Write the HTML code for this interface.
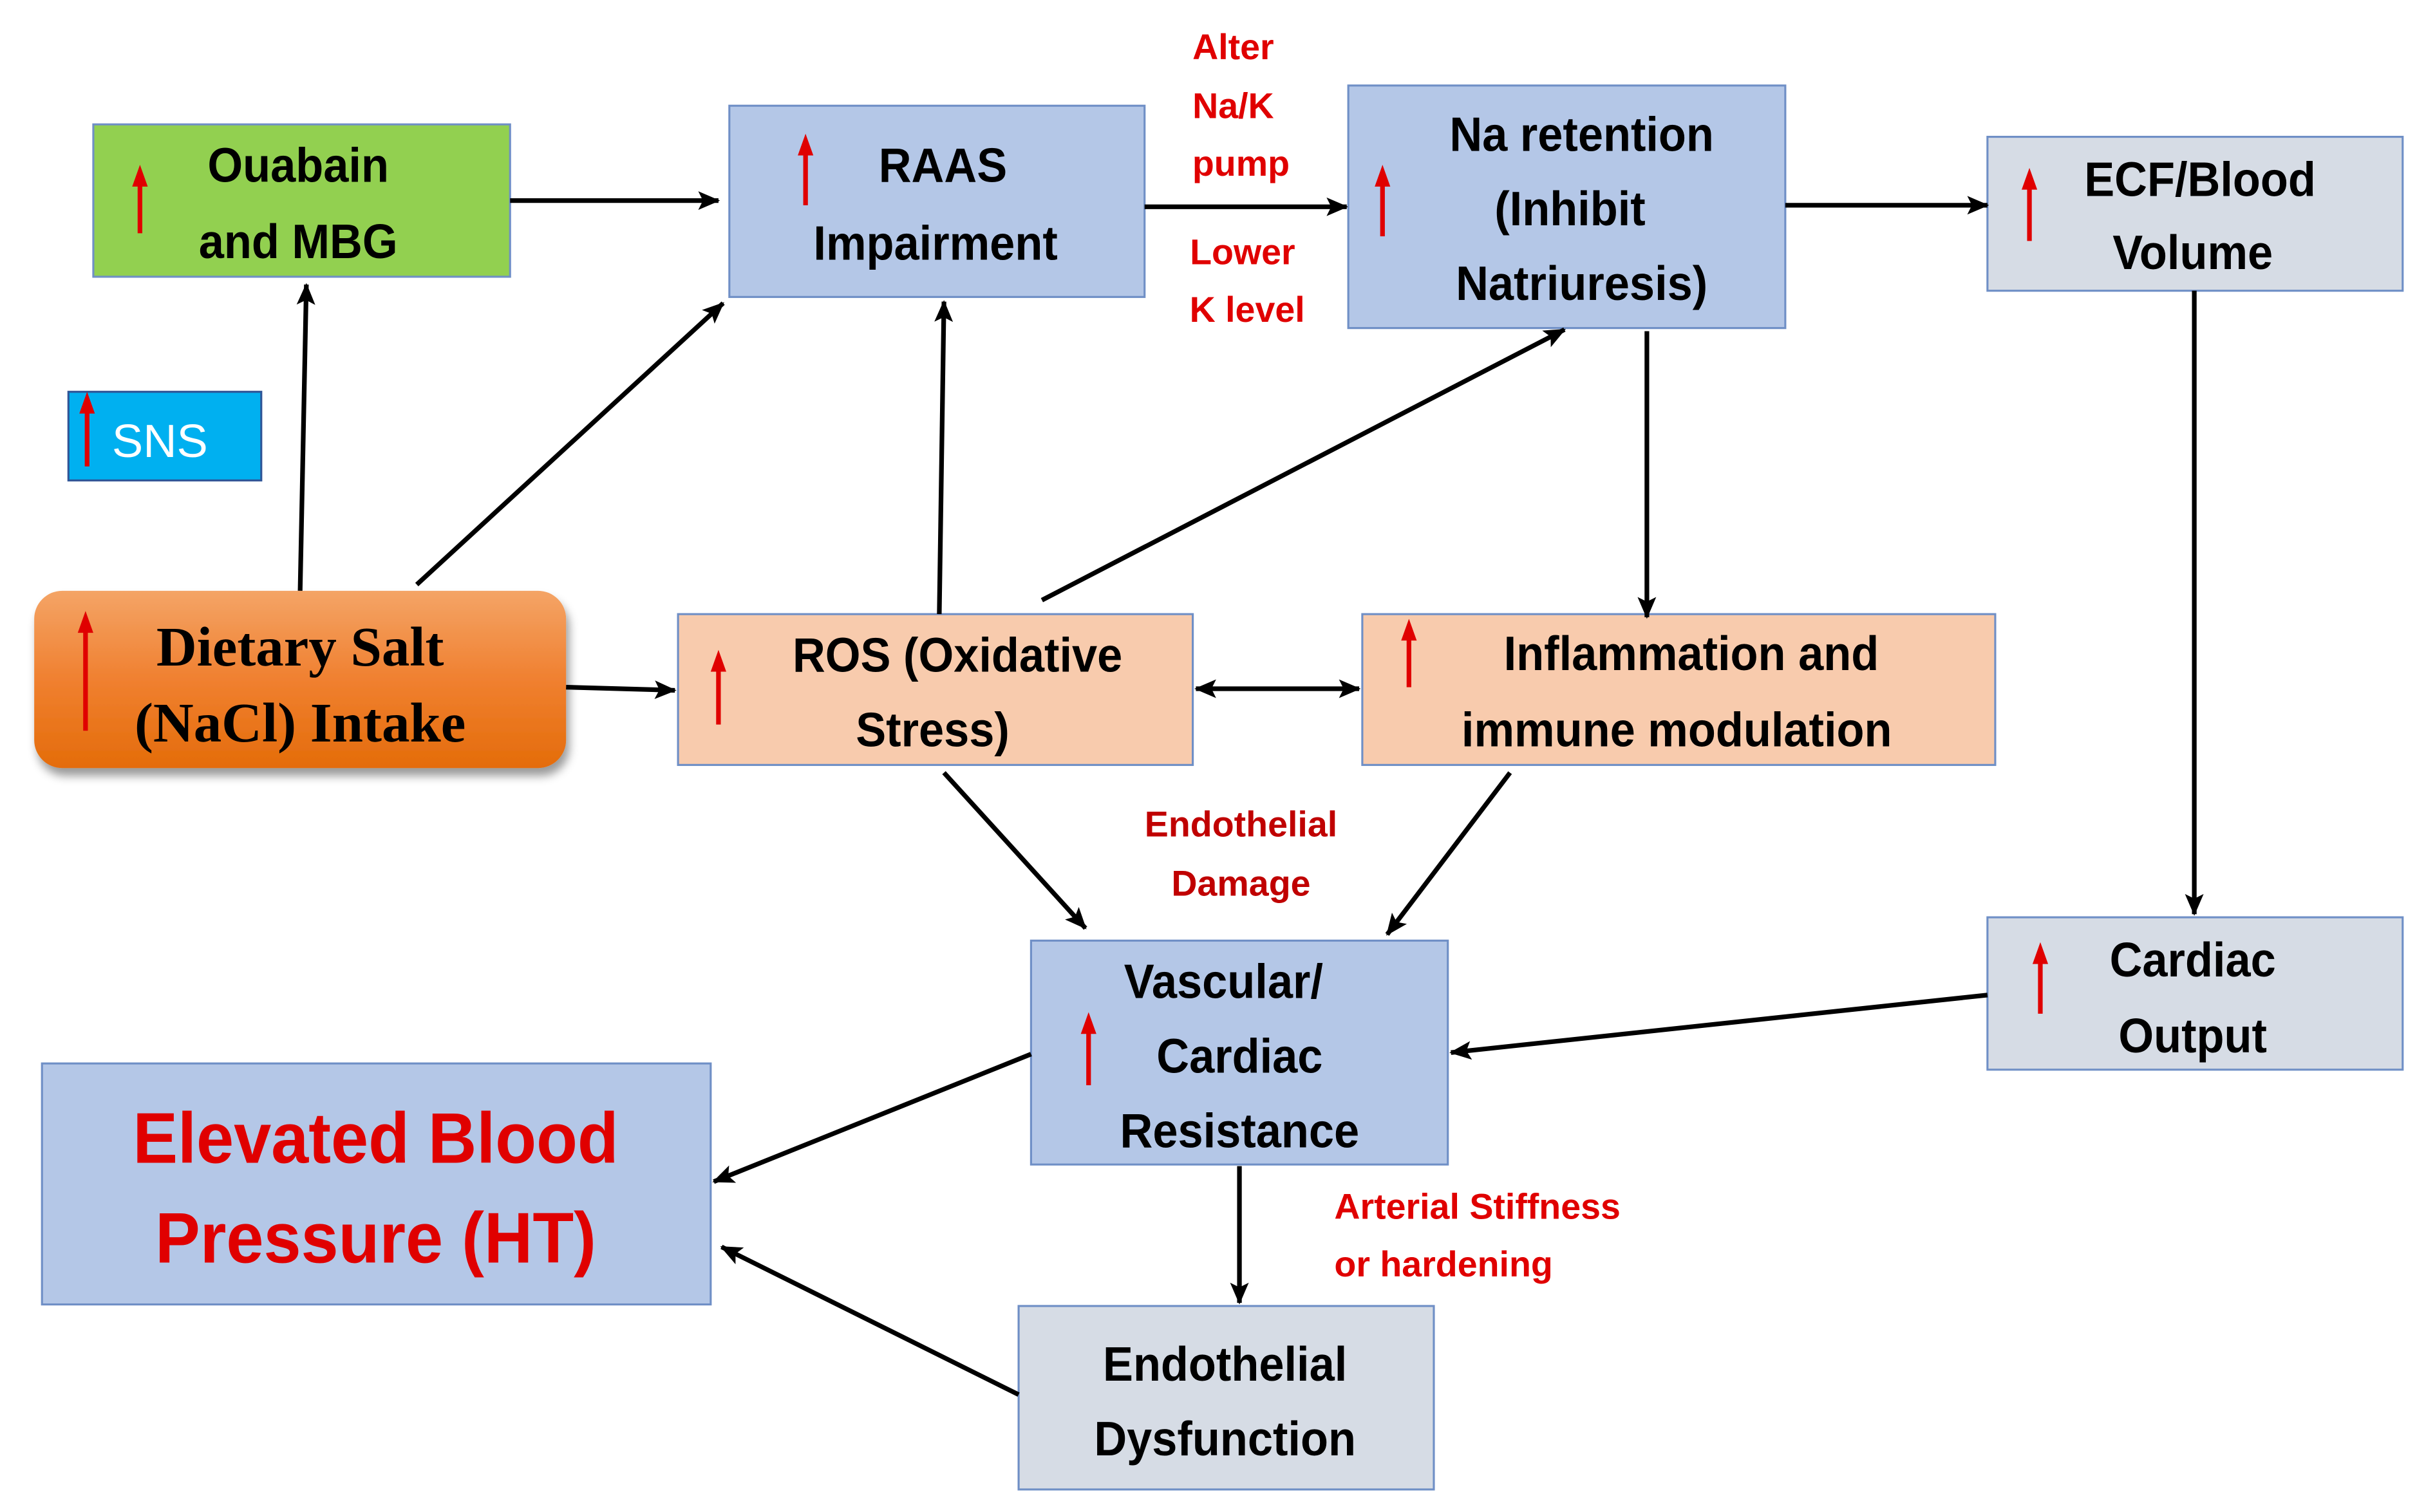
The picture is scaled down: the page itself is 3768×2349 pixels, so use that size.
<!DOCTYPE html>
<html><head><meta charset="utf-8"><style>
html,body{margin:0;padding:0;background:#fff;}
svg{display:block;}
.t{font-family:"Liberation Sans",sans-serif;font-weight:bold;font-size:31px;fill:#000;text-anchor:middle;}
.s{font-family:"Liberation Serif",serif;font-weight:bold;font-size:36px;fill:#000;text-anchor:middle;}
.l{font-family:"Liberation Sans",sans-serif;font-weight:bold;font-size:23px;fill:#e00000;}
.box{stroke:#6f8fc6;stroke-width:1.3;}
</style></head><body>
<svg width="3768" height="2349" viewBox="0 0 1560 972.5" preserveAspectRatio="none" xmlns="http://www.w3.org/2000/svg">
<defs>
<marker id="a" markerWidth="14" markerHeight="14" refX="13" refY="7" orient="auto" markerUnits="userSpaceOnUse"><path d="M0,1 L14,7 L0,13 L3,7 z" fill="#000"/></marker>
<marker id="as" markerWidth="14" markerHeight="14" refX="1" refY="7" orient="auto" markerUnits="userSpaceOnUse"><path d="M14,1 L0,7 L14,13 L11,7 z" fill="#000"/></marker>
<linearGradient id="og" x1="0" y1="0" x2="0" y2="1"><stop offset="0" stop-color="#f4a466"/><stop offset="0.5" stop-color="#f08030"/><stop offset="1" stop-color="#e46c0a"/></linearGradient>
<filter id="sh" x="-10%" y="-10%" width="120%" height="130%"><feDropShadow dx="2" dy="5" stdDeviation="3" flood-color="#000" flood-opacity="0.4"/></filter>
</defs>

<rect class="box" x="60" y="80" width="268" height="98" fill="#92d050"/>
<rect class="box" x="469" y="68" width="267" height="123" fill="#b4c7e7"/>
<rect class="box" x="867" y="55" width="281" height="156" fill="#b4c7e7"/>
<rect class="box" x="1278" y="88" width="267" height="99" fill="#d6dce5"/>
<rect x="44" y="252" width="124" height="57" fill="#00b0f0" stroke="#2f5597" stroke-width="1.3"/>
<rect x="22" y="380" width="342" height="114" rx="18" fill="url(#og)" filter="url(#sh)"/>
<rect class="box" x="436" y="395" width="331" height="97" fill="#f8cbad"/>
<rect class="box" x="876" y="395" width="407" height="97" fill="#f8cbad"/>
<rect class="box" x="663" y="605" width="268" height="144" fill="#b4c7e7"/>
<rect class="box" x="1278" y="590" width="267" height="98" fill="#d6dce5"/>
<rect class="box" x="27" y="684" width="430" height="155" fill="#b4c7e7"/>
<rect class="box" x="655" y="840" width="267" height="118" fill="#d6dce5"/>

<g stroke="#e00000" stroke-width="3">
<line x1="90" y1="150" x2="90" y2="118"/>
<line x1="518" y1="132" x2="518" y2="98"/>
<line x1="889" y1="152" x2="889" y2="118"/>
<line x1="1305" y1="155" x2="1305" y2="120"/>
<line x1="56" y1="300" x2="56" y2="264"/>
<line x1="55" y1="470" x2="55" y2="405"/>
<line x1="462" y1="466" x2="462" y2="430"/>
<line x1="906" y1="442" x2="906" y2="410"/>
<line x1="700" y1="698" x2="700" y2="663"/>
<line x1="1312" y1="652" x2="1312" y2="618"/>
</g>
<g fill="#e00000">
<polygon points="85,120 90,106 95,120"/>
<polygon points="513,100 518,86 523,100"/>
<polygon points="884,120 889,106 894,120"/>
<polygon points="1300,122 1305,108 1310,122"/>
<polygon points="51,266 56,252 61,266"/>
<polygon points="50,407 55,393 60,407"/>
<polygon points="457,432 462,418 467,432"/>
<polygon points="901,412 906,398 911,412"/>
<polygon points="695,665 700,651 705,665"/>
<polygon points="1307,620 1312,606 1317,620"/>
</g>

<g stroke="#000" stroke-width="3" fill="none" marker-end="url(#a)">
<line x1="328" y1="129" x2="462" y2="129"/>
<line x1="736" y1="133" x2="866" y2="133"/>
<line x1="1148" y1="132" x2="1278" y2="132"/>
<line x1="193" y1="380" x2="197" y2="183"/>
<line x1="268" y1="376" x2="465" y2="195"/>
<line x1="364" y1="442" x2="434" y2="444"/>
<line x1="604" y1="395" x2="607" y2="194"/>
<line x1="670" y1="386" x2="1006" y2="212"/>
<line x1="1059" y1="213" x2="1059" y2="397"/>
<line x1="769" y1="443" x2="874" y2="443" marker-start="url(#as)"/>
<line x1="1411" y1="187" x2="1411" y2="588"/>
<line x1="607" y1="497" x2="698" y2="597"/>
<line x1="971" y1="497" x2="892" y2="601"/>
<line x1="1278" y1="640" x2="933" y2="677"/>
<line x1="663" y1="678" x2="459" y2="760"/>
<line x1="797" y1="750" x2="797" y2="838"/>
<line x1="655" y1="897" x2="464" y2="802"/>
</g>

<g transform="scale(0.94,1)">
<text class="t" x="204" y="117">Ouabain</text>
<text class="t" x="204" y="166">and MBG</text>
<text class="t" x="645" y="117">RAAS</text>
<text class="t" x="640" y="167">Impairment</text>
<text class="t" x="1082" y="97">Na retention</text>
<text class="t" x="1074" y="145">(Inhibit</text>
<text class="t" x="1082" y="193">Natriuresis)</text>
<text class="t" x="1505" y="126">ECF/Blood</text>
<text class="t" x="1500" y="173">Volume</text>
<text class="t" x="655" y="432">ROS (Oxidative</text>
<text class="t" x="638" y="480">Stress)</text>
<text class="t" x="1157" y="431">Inflammation and</text>
<text class="t" x="1147" y="480">immune modulation</text>
<text class="t" x="837" y="642">Vascular/</text>
<text class="t" x="848" y="690">Cardiac</text>
<text class="t" x="848" y="738">Resistance</text>
<text class="t" x="1500" y="628">Cardiac</text>
<text class="t" x="1500" y="677">Output</text>
<text class="t" x="257" y="748" style="font-size:46px;fill:#e00000;">Elevated Blood</text>
<text class="t" x="257" y="812" style="font-size:46px;fill:#e00000;">Pressure (HT)</text>
<text class="t" x="838" y="888">Endothelial</text>
<text class="t" x="838" y="936">Dysfunction</text>
</g>
<text x="72" y="294" style="font-family:'Liberation Sans',sans-serif;font-size:30px;fill:#fff;">SNS</text>
<text class="s" x="193" y="428">Dietary Salt</text>
<text class="s" x="193" y="477">(NaCl) Intake</text>

<text class="l" x="793" y="38" text-anchor="middle">Alter</text>
<text class="l" x="793" y="76" text-anchor="middle">Na/K</text>
<text class="l" x="798" y="113" text-anchor="middle">pump</text>
<text class="l" x="799" y="170" text-anchor="middle">Lower</text>
<text class="l" x="802" y="207" text-anchor="middle">K level</text>
<text class="l" x="798" y="538" text-anchor="middle" style="fill:#c00000">Endothelial</text>
<text class="l" x="798" y="576" text-anchor="middle" style="fill:#c00000">Damage</text>
<text class="l" x="858" y="784">Arterial Stiffness</text>
<text class="l" x="858" y="821">or hardening</text>
</svg>
</body></html>
